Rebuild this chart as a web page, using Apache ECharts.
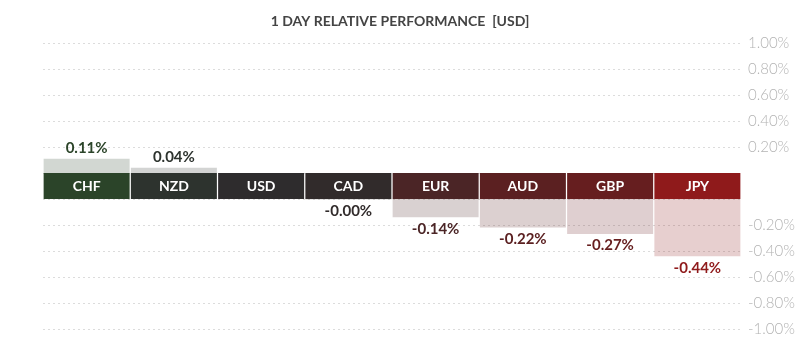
<!DOCTYPE html>
<html lang="en">
<head>
    <meta charset="UTF-8">
    <title>1 Day Relative Performance</title>
    <script src="https://cdn.jsdelivr.net/npm/echarts@6/dist/echarts.min.js"></script>
    <style>
        html, body { margin: 0; padding: 0; background: #fff; }
        #chart { width: 800px; height: 352px; }
    </style>
</head>
<body>
<div id="chart"></div>
<script>
    // data
    const currencies = ['CHF', 'NZD', 'USD', 'CAD', 'EUR', 'AUD', 'GBP', 'JPY'];
    const changes = [0.11, 0.04, null, -0.003, -0.14, -0.22, -0.27, -0.44];
    const bandColors = ['#2b4429', '#2d332e', '#2e2c2d', '#312b2b', '#4b2526', '#5b2021', '#661e1f', '#8f1a1b'];

    const font = 'Lato, "DejaVu Sans", sans-serif';
    const barW = 86;

    const posData = changes.map(v => (v !== null && v > 0) ? v : null);
    const negData = changes.map(v => (v !== null && v <= 0) ? v : null);

    // light tint of a band colour for the value bars
    function tint(hex, a) {
        const n = parseInt(hex.slice(1), 16);
        return 'rgba(' + (n >> 16) + ',' + ((n >> 8) & 255) + ',' + (n & 255) + ',' + a + ')';
    }

    function valueItems(arr) {
        return arr.map((v, i) => ({
            value: v,
            itemStyle: { color: tint(bandColors[i], 0.21) },
            label: { color: bandColors[i] }
        }));
    }

    const pctLabel = v => v === 0 ? '' : v.toFixed(2) + '%';

    const hiddenX = idx => ({
        type: 'category', gridIndex: idx, data: currencies, show: false
    });
    const valueY = (idx, min, max) => ({
        type: 'value', gridIndex: idx, min: min, max: max, interval: 0.2,
        position: 'right',
        axisLine: { show: false }, axisTick: { show: false },
        axisLabel: {
            formatter: pctLabel, color: '#b3b3b3', fontFamily: font,
            fontSize: 15, fontWeight: 300, margin: 7
        },
        splitLine: { lineStyle: { color: '#dcdcdc', type: [2, 3] } }
    });

    const chart = echarts.init(document.getElementById('chart'));
    chart.setOption({
        animation: false,
        title: {
            text: '1 DAY RELATIVE PERFORMANCE  [USD]',
            left: 'center', top: 9,
            textStyle: { fontFamily: font, fontSize: 14, fontWeight: 'bold', color: '#444' }
        },
        grid: [
            { left: 43, right: 59, top: 43, height: 130 },
            { left: 43, right: 59, top: 173, height: 26 },
            { left: 43, right: 59, top: 199, height: 130 }
        ],
        xAxis: [hiddenX(0), hiddenX(1), hiddenX(2)],
        yAxis: [
            valueY(0, 0, 1),
            { type: 'value', gridIndex: 1, min: 0, max: 1, show: false },
            valueY(2, -1, 0)
        ],
        series: [
            {
                type: 'bar', xAxisIndex: 0, yAxisIndex: 0, barWidth: barW,
                data: valueItems(posData),
                label: {
                    show: true, position: 'top', distance: 3,
                    fontFamily: font, fontSize: 15, fontWeight: 'bold',
                    formatter: p => p.value.toFixed(2) + '%'
                }
            },
            {
                type: 'bar', xAxisIndex: 1, yAxisIndex: 1, barWidth: barW,
                data: currencies.map((c, i) => ({ value: 1, itemStyle: { color: bandColors[i] } })),
                label: {
                    show: true, position: 'inside', color: '#fff',
                    fontFamily: font, fontSize: 14, fontWeight: 'bold',
                    formatter: p => currencies[p.dataIndex]
                }
            },
            {
                type: 'bar', xAxisIndex: 2, yAxisIndex: 2, barWidth: barW,
                data: valueItems(negData),
                label: {
                    show: true, position: 'bottom', distance: 4,
                    fontFamily: font, fontSize: 15, fontWeight: 'bold',
                    formatter: p => p.value.toFixed(2) + '%'
                }
            }
        ]
    });
</script>
</body>
</html>
